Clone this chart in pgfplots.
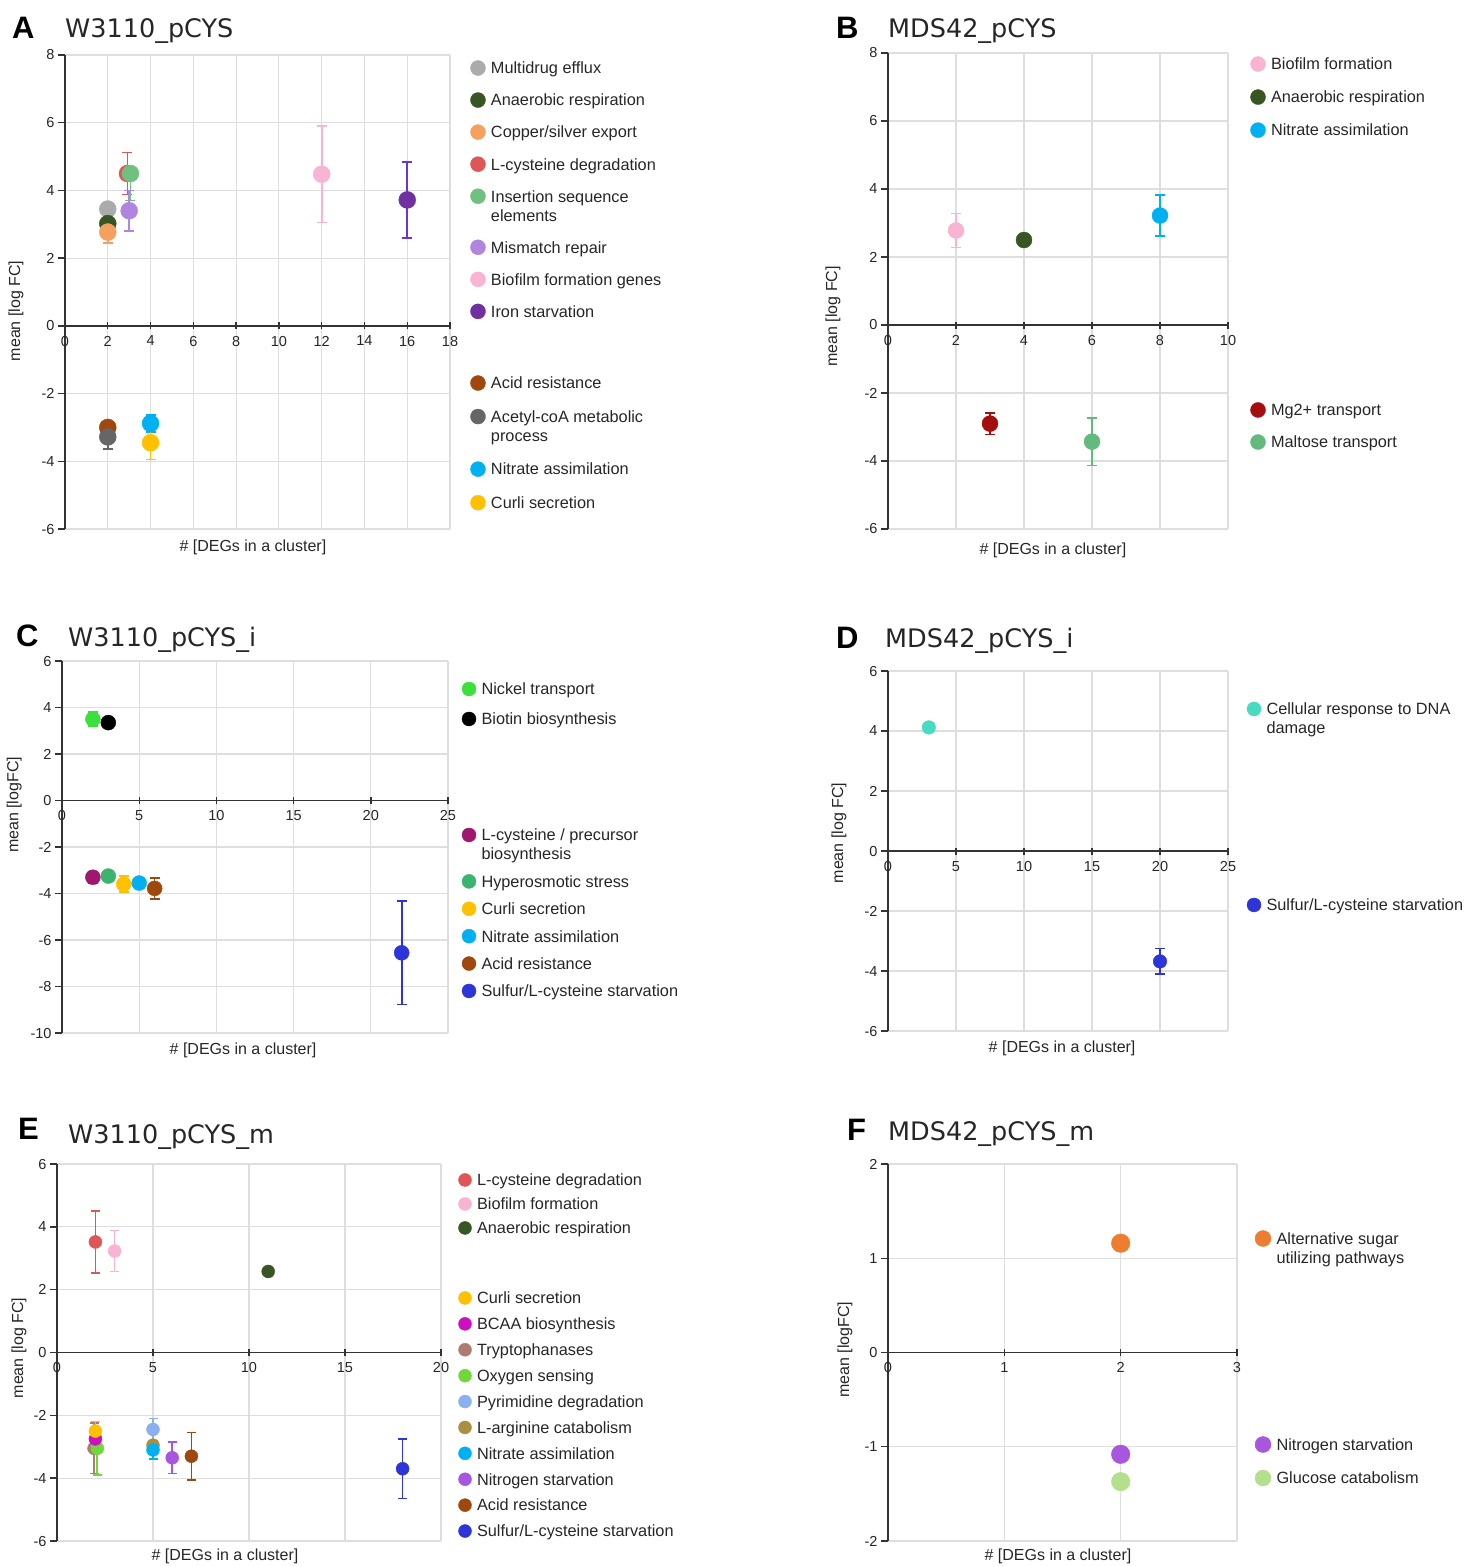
\documentclass[border=0pt]{standalone}
\usepackage{pgfplots}
\pgfplotsset{compat=1.18}
\usepackage{fontspec}
\setmainfont{Liberation Sans}
\newfontfamily\verd{DejaVu Sans}
\newcommand\tickfont{\fontsize{14.5}{16}\selectfont}
\newcommand\labfont{\fontsize{16}{19}\selectfont}
\newcommand\legfont{\fontsize{16.3}{19}\selectfont}
\newcommand\ttlfont{\verd\fontsize{25.5}{30}\selectfont}
\newcommand\letfont{\fontsize{31}{36}\selectfont\bfseries}
\newcommand\two[2]{\vtop{\hbox{\strut #1}\hbox{\strut #2}}}

\definecolor{cGray}{HTML}{ABABAB}
\definecolor{cDkGreen}{HTML}{375623}
\definecolor{cCopper}{HTML}{F4A05E}
\definecolor{cRed}{HTML}{E05555}
\definecolor{cIns}{HTML}{70C080}
\definecolor{cMis}{HTML}{B184E0}
\definecolor{cPink}{HTML}{F9B3D3}
\definecolor{cIron}{HTML}{7030A0}
\definecolor{cIronBar}{HTML}{6A35D0}
\definecolor{cAcid}{HTML}{9E480E}
\definecolor{cAcetyl}{HTML}{666666}
\definecolor{cNitrate}{HTML}{00B0F0}
\definecolor{cCurli}{HTML}{FFC000}
\definecolor{cMg}{HTML}{A50E0E}
\definecolor{cMaltose}{HTML}{62BB7C}
\definecolor{cNickel}{HTML}{3CE03C}
\definecolor{cPrec}{HTML}{A0186E}
\definecolor{cHyper}{HTML}{3CB36E}
\definecolor{cSulfur}{HTML}{2E35D8}
\definecolor{cTurq}{HTML}{48DBC0}
\definecolor{cBCAA}{HTML}{CC10C0}
\definecolor{cTrp}{HTML}{B07A70}
\definecolor{cOxy}{HTML}{70D83C}
\definecolor{cPyr}{HTML}{8AB0F0}
\definecolor{cArg}{HTML}{A89040}
\definecolor{cNstar}{HTML}{A855E0}
\definecolor{cSugar}{HTML}{ED7D31}
\definecolor{cGluc}{HTML}{B4E08E}
\definecolor{cTxt}{HTML}{262626}

\def\mr{8pt}
\def\legr{7.5pt}
\def\capr{5pt}

\pgfplotsset{
  panel/.style={
    scale only axis, anchor=north west,
    axis x line=middle, axis y line=left,
    axis line style={-, draw=black!80, line width=1.7pt},
    grid=major, major grid style={draw=black!13, line width=1.1pt},
    xtick align=center, ytick align=outside, major tick length=7pt,
    tick style={black!80, line width=1.4pt},
    hide obscured x ticks=false, hide obscured y ticks=false,
    tick label style={font=\tickfont, text=cTxt},
    xticklabel style={yshift=-3pt},
    /pgf/number format/assume math mode=true,
    xlabel={\# [DEGs in a cluster]},
    clip=false,
    legend cell align=left,
    legend style={draw=none, fill=none, inner sep=0pt, outer sep=0pt,
      column sep=5.5pt, anchor=north west, font=\legfont, text=cTxt,
      cells={anchor=base west}, nodes={inner sep=0pt, text depth={}}},
    legend image code/.code={\draw[##1, mark size=\legr] plot coordinates {(0pt,5.85pt)};},
  },
  ylab/.style 2 args={every axis y label/.style={at={(axis description cs:#1,#2)}, anchor=center, rotate=90, font=\labfont, text=cTxt}},
  xlab/.style 2 args={every axis x label/.style={at={(axis description cs:#1,#2)}, anchor=center, font=\labfont, text=cTxt}},
  hidden/.style={scale only axis, anchor=north west, hide axis, clip=false,
    legend cell align=left,
    legend style={draw=none, fill=none, inner sep=0pt, outer sep=0pt,
      column sep=5.5pt, anchor=north west, font=\legfont, text=cTxt,
      cells={anchor=base west}, nodes={inner sep=0pt, text depth={}}},
    legend image code/.code={\draw[##1, mark size=\legr] plot coordinates {(0pt,5.85pt)};},
  },
  pe/.style={only marks, mark=*, mark size=\mr, color=#1,
    mark options={draw=none, fill=#1}, forget plot,
    error bars/.cd, y dir=both, y explicit,
    error bar style={line width=1.7pt, #1},
    error mark options={rotate=90, mark size=\capr, line width=1.7pt, #1},
    /pgfplots/.cd},
  pn/.style={only marks, mark=*, mark size=\mr, color=#1,
    mark options={draw=none, fill=#1}, forget plot},
  li/.style={mark=*, color=#1, mark options={draw=none, fill=#1}},
}

\begin{document}
\begin{tikzpicture}
\path[use as bounding box] (0pt,0pt) rectangle (1471pt,-1567pt);

% ---------- titles
\node[anchor=base west, font=\letfont, inner sep=0pt] at (12pt,-38pt) {A};
\node[anchor=base west, font=\ttlfont, inner sep=0pt, text=cTxt] at (65pt,-37pt) {W3110\_pCYS};
\node[anchor=base west, font=\letfont, inner sep=0pt] at (836pt,-38pt) {B};
\node[anchor=base west, font=\ttlfont, inner sep=0pt, text=cTxt] at (888pt,-37pt) {MDS42\_pCYS};
\node[anchor=base west, font=\letfont, inner sep=0pt] at (16pt,-646pt) {C};
\node[anchor=base west, font=\ttlfont, inner sep=0pt, text=cTxt] at (68pt,-646pt) {W3110\_pCYS\_i};
\node[anchor=base west, font=\letfont, inner sep=0pt] at (836pt,-648pt) {D};
\node[anchor=base west, font=\ttlfont, inner sep=0pt, text=cTxt] at (885pt,-647pt) {MDS42\_pCYS\_i};
\node[anchor=base west, font=\letfont, inner sep=0pt] at (18pt,-1139pt) {E};
\node[anchor=base west, font=\ttlfont, inner sep=0pt, text=cTxt] at (68pt,-1143pt) {W3110\_pCYS\_m};
\node[anchor=base west, font=\letfont, inner sep=0pt] at (847pt,-1140pt) {F};
\node[anchor=base west, font=\ttlfont, inner sep=0pt, text=cTxt] at (888pt,-1140pt) {MDS42\_pCYS\_m};

% ================= Panel A
\def\mr{8.5pt}\def\legr{7.5pt}\def\capr{5pt}
\begin{axis}[panel, at={(65pt,-55pt)}, width=385pt, height=474pt,
  xmin=0, xmax=18, ymin=-6, ymax=8, xtick={0,2,...,18}, ytick={-6,-4,...,8},
  ylabel={mean [log FC]}, ylab={-0.127}{0.46}, xlab={0.488}{-0.038},
  legend style={at={(1.0532,0.9884)}, row sep=13pt}]
\addplot[pn=cGray] coordinates {(2,3.45)};
\addplot[pn=cDkGreen] coordinates {(2,3.02)};
\addplot[pe=cCopper] coordinates {(2,2.77) +- (0,0.32)};
\addplot[pe=cRed] coordinates {(2.92,4.5) +- (0,0.62)};
\addplot[pe=cIns] coordinates {(3.06,4.5) += (0,0) -= (0,0.8)};
\addplot[pe=cMis] coordinates {(3,3.4) +- (0,0.6)};
\addplot[pe=cPink] coordinates {(12,4.48) +- (0,1.43)};
\addplot[pe=cIronBar, /tikz/mark options={draw=none, fill=cIron}] coordinates {(16,3.72) +- (0,1.13)};
\addlegendimage{li=cGray}\addlegendentry{\strut Multidrug efflux}
\addlegendimage{li=cDkGreen}\addlegendentry{\strut Anaerobic respiration}
\addlegendimage{li=cCopper}\addlegendentry{\strut Copper/silver export}
\addlegendimage{li=cRed}\addlegendentry{\strut L-cysteine degradation}
\addlegendimage{li=cIns}\addlegendentry{\two{Insertion sequence}{elements}}
\addlegendimage{li=cMis}\addlegendentry{\strut Mismatch repair}
\addlegendimage{li=cPink}\addlegendentry{\strut Biofilm formation genes}
\addlegendimage{li=cIron}\addlegendentry{\strut Iron starvation}
\end{axis}
\begin{axis}[hidden, at={(65pt,-55pt)}, width=385pt, height=474pt,
  xmin=0, xmax=18, ymin=-6, ymax=8,
  legend style={at={(1.0532,0.3238)}, row sep=14.5pt}]
\addplot[pe=cAcid] coordinates {(2,-3.0) +- (0,0.1)};
\addplot[pe=cAcetyl] coordinates {(2,-3.28) +- (0,0.35)};
\addplot[pe=cNitrate] coordinates {(4,-2.88) +- (0,0.25)};
\addplot[pe=cCurli] coordinates {(4,-3.45) +- (0,0.5)};
\addlegendimage{li=cAcid}\addlegendentry{\strut Acid resistance}
\addlegendimage{li=cAcetyl}\addlegendentry{\two{Acetyl-coA metabolic}{process}}
\addlegendimage{li=cNitrate}\addlegendentry{\strut Nitrate assimilation}
\addlegendimage{li=cCurli}\addlegendentry{\strut Curli secretion}
\end{axis}

% ================= Panel B
\def\mr{8pt}\def\legr{7.5pt}
\begin{axis}[panel, at={(888pt,-53pt)}, width=340pt, height=476pt,
  xmin=0, xmax=10, ymin=-6, ymax=8, xtick={0,2,...,10}, ytick={-6,-4,...,8},
  ylabel={mean [log FC]}, ylab={-0.162}{0.447}, xlab={0.485}{-0.044},
  legend style={at={(1.0662,0.9926)}, row sep=14pt}]
\addplot[pe=cPink] coordinates {(2,2.78) +- (0,0.5)};
\addplot[pn=cDkGreen] coordinates {(4,2.5)};
\addplot[pe=cNitrate] coordinates {(8,3.22) +- (0,0.6)};
\addlegendimage{li=cPink}\addlegendentry{\strut Biofilm formation}
\addlegendimage{li=cDkGreen}\addlegendentry{\strut Anaerobic respiration}
\addlegendimage{li=cNitrate}\addlegendentry{\strut Nitrate assimilation}
\end{axis}
\begin{axis}[hidden, at={(888pt,-53pt)}, width=340pt, height=476pt,
  xmin=0, xmax=10, ymin=-6, ymax=8,
  legend style={at={(1.0662,0.2658)}, row sep=13pt}]
\addplot[pe=cMg] coordinates {(3,-2.9) +- (0,0.32)};
\addplot[pe=cMaltose] coordinates {(6,-3.43) +- (0,0.7)};
\addlegendimage{li=cMg}\addlegendentry{\strut Mg2+ transport}
\addlegendimage{li=cMaltose}\addlegendentry{\strut Maltose transport}
\end{axis}

% ================= Panel C
\def\mr{7.5pt}\def\legr{7pt}
\begin{axis}[panel, at={(62pt,-661pt)}, width=386pt, height=372pt,
  xmin=0, xmax=25, ymin=-10, ymax=6, xtick={0,5,...,25}, ytick={-10,-8,...,6},
  ylabel={mean [logFC]}, ylab={-0.124}{0.613}, xlab={0.469}{-0.046},
  legend style={at={(1.0363,0.9449)}, row sep=11pt}]
\addplot[pe=cNickel] coordinates {(2,3.5) +- (0,0.3)};
\addplot[pn=black] coordinates {(3,3.35)};
\addlegendimage{li=cNickel}\addlegendentry{\strut Nickel transport}
\addlegendimage{li=black}\addlegendentry{\strut Biotin biosynthesis}
\end{axis}
\begin{axis}[hidden, at={(62pt,-661pt)}, width=386pt, height=372pt,
  xmin=0, xmax=25, ymin=-10, ymax=6,
  legend style={at={(1.0363,0.5524)}, row sep=8.4pt}]
\addplot[pe=cPrec] coordinates {(2,-3.3) +- (0,0.25)};
\addplot[pn=cHyper] coordinates {(3,-3.25)};
\addplot[pe=cCurli] coordinates {(4,-3.6) +- (0,0.35)};
\addplot[pn=cNitrate] coordinates {(5,-3.55)};
\addplot[pe=cAcid] coordinates {(6,-3.78) +- (0,0.45)};
\addplot[pe=cSulfur] coordinates {(22,-6.55) +- (0,2.22)};
\addlegendimage{li=cPrec}\addlegendentry{\two{L-cysteine / precursor}{biosynthesis}}
\addlegendimage{li=cHyper}\addlegendentry{\strut Hyperosmotic stress}
\addlegendimage{li=cCurli}\addlegendentry{\strut Curli secretion}
\addlegendimage{li=cNitrate}\addlegendentry{\strut Nitrate assimilation}
\addlegendimage{li=cAcid}\addlegendentry{\strut Acid resistance}
\addlegendimage{li=cSulfur}\addlegendentry{\strut Sulfur/L-cysteine starvation}
\end{axis}

% ================= Panel D
\def\mr{6.8pt}\def\legr{7pt}
\begin{axis}[panel, at={(888pt,-671pt)}, width=340pt, height=360pt,
  xmin=0, xmax=25, ymin=-6, ymax=6, xtick={0,5,...,25}, ytick={-6,-4,...,6},
  ylabel={mean [log FC]}, ylab={-0.144}{0.55}, xlab={0.512}{-0.047},
  legend style={at={(1.0559,0.9153)}, row sep=12pt}]
\addplot[pn=cTurq] coordinates {(3,4.12)};
\addlegendimage{li=cTurq}\addlegendentry{\two{Cellular response to DNA}{damage}}
\end{axis}
\begin{axis}[hidden, at={(888pt,-671pt)}, width=340pt, height=360pt,
  xmin=0, xmax=25, ymin=-6, ymax=6,
  legend style={at={(1.0559,0.3708)}, row sep=12pt}]
\addplot[pe=cSulfur] coordinates {(20,-3.68) +- (0,0.43)};
\addlegendimage{li=cSulfur}\addlegendentry{\strut Sulfur/L-cysteine starvation}
\end{axis}

% ================= Panel E
\def\mr{6.5pt}\def\legr{6.5pt}\def\capr{4.5pt}
\begin{axis}[panel, at={(57pt,-1164pt)}, width=384pt, height=377pt,
  xmin=0, xmax=20, ymin=-6, ymax=6, xtick={0,5,...,20}, ytick={-6,-4,...,6},
  ylabel={mean [log FC]}, ylab={-0.099}{0.512}, xlab={0.4375}{-0.042},
  legend style={at={(1.0456,0.9775)}, row sep=5pt}]
\addplot[pe=cRed] coordinates {(2,3.52) +- (0,0.98)};
\addplot[pe=cPink] coordinates {(3,3.23) +- (0,0.65)};
\addplot[pn=cDkGreen] coordinates {(11,2.58)};
\addlegendimage{li=cRed}\addlegendentry{\strut L-cysteine degradation}
\addlegendimage{li=cPink}\addlegendentry{\strut Biofilm formation}
\addlegendimage{li=cDkGreen}\addlegendentry{\strut Anaerobic respiration}
\end{axis}
\begin{axis}[hidden, at={(57pt,-1164pt)}, width=384pt, height=377pt,
  xmin=0, xmax=20, ymin=-6, ymax=6,
  legend style={at={(1.0456,0.6645)}, row sep=6.9pt}]
\addplot[pe=cTrp] coordinates {(1.93,-3.05) +- (0,0.8)};
\addplot[pe=cOxy] coordinates {(2.1,-3.05) += (0,0) -= (0,0.85)};
\addplot[pn=cBCAA] coordinates {(2,-2.75)};
\addplot[pe=cCurli] coordinates {(2,-2.5) +- (0,0.3)};
\addplot[pe=cArg] coordinates {(5,-2.95) +- (0,0.45)};
\addplot[pe=cPyr] coordinates {(5,-2.45) +- (0,0.35)};
\addplot[pe=cNitrate] coordinates {(5,-3.1) +- (0,0.3)};
\addplot[pe=cNstar] coordinates {(6,-3.35) +- (0,0.5)};
\addplot[pe=cAcid] coordinates {(7,-3.3) +- (0,0.75)};
\addplot[pe=cSulfur] coordinates {(18,-3.7) +- (0,0.95)};
\addlegendimage{li=cCurli}\addlegendentry{\strut Curli secretion}
\addlegendimage{li=cBCAA}\addlegendentry{\strut BCAA biosynthesis}
\addlegendimage{li=cTrp}\addlegendentry{\strut Tryptophanases}
\addlegendimage{li=cOxy}\addlegendentry{\strut Oxygen sensing}
\addlegendimage{li=cPyr}\addlegendentry{\strut Pyrimidine degradation}
\addlegendimage{li=cArg}\addlegendentry{\strut L-arginine catabolism}
\addlegendimage{li=cNitrate}\addlegendentry{\strut Nitrate assimilation}
\addlegendimage{li=cNstar}\addlegendentry{\strut Nitrogen starvation}
\addlegendimage{li=cAcid}\addlegendentry{\strut Acid resistance}
\addlegendimage{li=cSulfur}\addlegendentry{\strut Sulfur/L-cysteine starvation}
\end{axis}

% ================= Panel F
\def\mr{9.3pt}\def\legr{8pt}
\begin{axis}[panel, at={(888pt,-1164pt)}, width=349pt, height=377pt,
  xmin=0, xmax=3, ymin=-2, ymax=2, xtick={0,1,2,3}, ytick={-2,-1,0,1,2},
  ylabel={mean [logFC]}, ylab={-0.123}{0.507}, xlab={0.487}{-0.04},
  legend style={at={(1.0516,0.8236)}, row sep=14pt}]
\addplot[pn=cSugar] coordinates {(2,1.16)};
\addlegendimage{li=cSugar}\addlegendentry{\two{Alternative sugar}{utilizing pathways}}
\end{axis}
\begin{axis}[hidden, at={(888pt,-1164pt)}, width=349pt, height=377pt,
  xmin=0, xmax=3, ymin=-2, ymax=2,
  legend style={at={(1.0516,0.2772)}, row sep=14pt}]
\addplot[pn=cNstar] coordinates {(2,-1.08)};
\addplot[pn=cGluc] coordinates {(2,-1.37)};
\addlegendimage{li=cNstar}\addlegendentry{\strut Nitrogen starvation}
\addlegendimage{li=cGluc}\addlegendentry{\strut Glucose catabolism}
\end{axis}
\end{tikzpicture}
\end{document}
